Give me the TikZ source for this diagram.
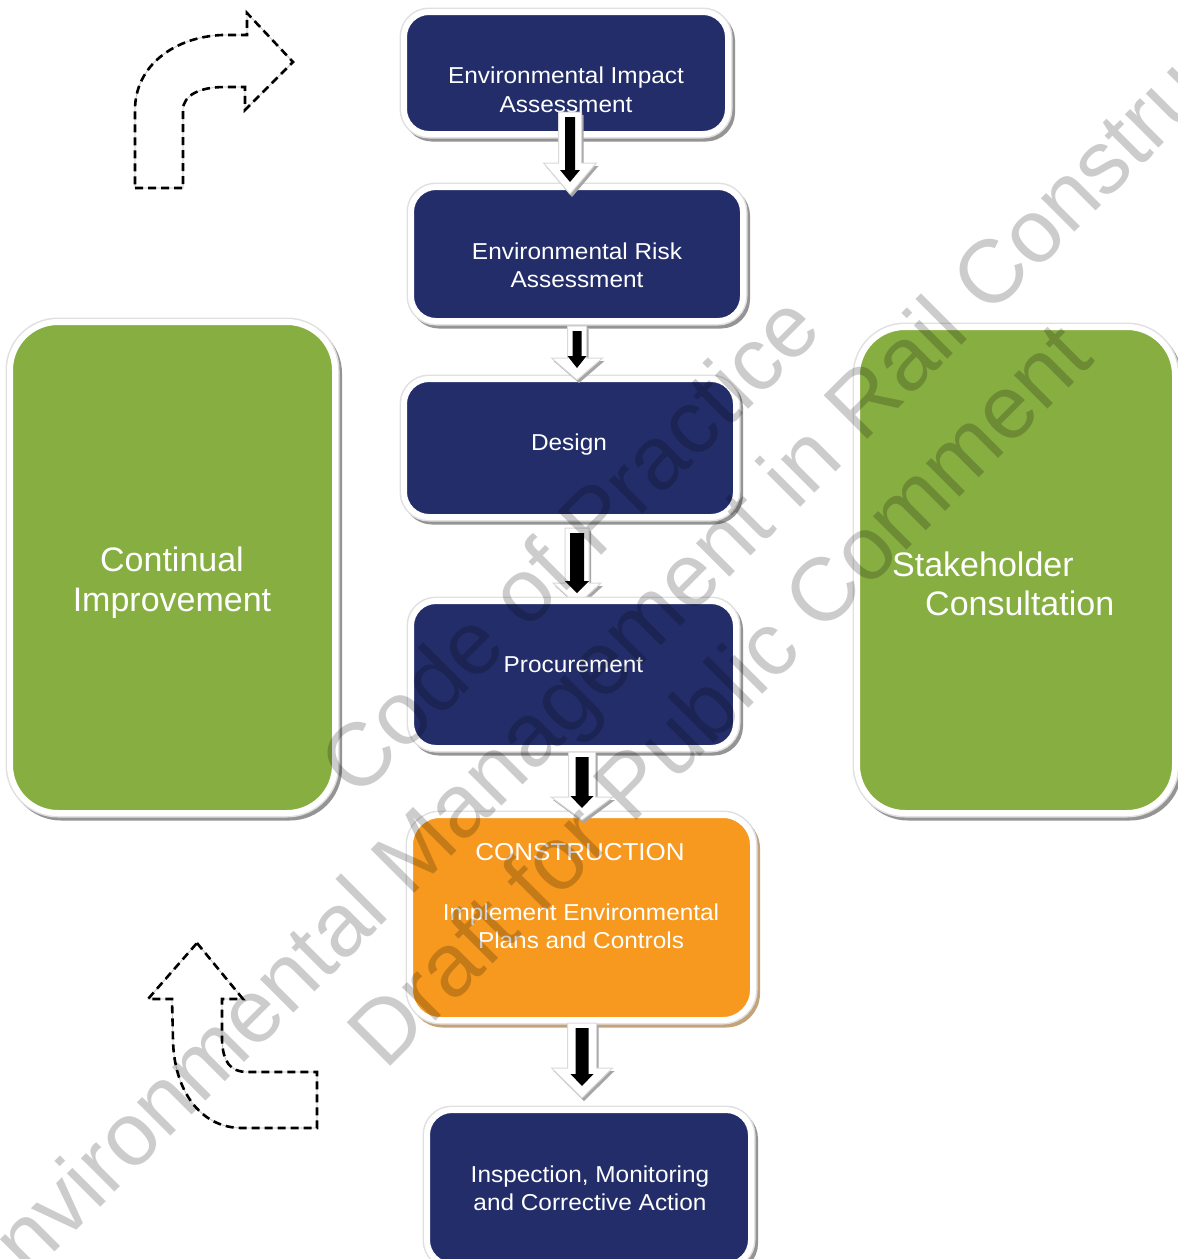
\documentclass[tikz,border=0pt]{standalone}
\usepackage{fontspec}
\setmainfont{Liberation Sans}
\newfontfamily\boxfont[FakeStretch=1.06]{Liberation Sans}
\usetikzlibrary{calc}
\definecolor{navy}{HTML}{232D69}
\definecolor{leaf}{HTML}{87AE41}
\definecolor{amber}{HTML}{F7991E}
\definecolor{tanshadow}{HTML}{C4A27A}
\tikzset{
  boxbase/.style={draw=white, line width=6pt, inner sep=0pt, outer sep=0pt, rounded corners=25pt},
  shadowgray/.style={preaction={fill=black!42, draw=black!42, line width=8pt, transform canvas={xshift=3pt,yshift=-3.5pt}},
    preaction={draw=black!12, line width=9pt}},
  shadowtan/.style={preaction={fill=tanshadow, draw=tanshadow, line width=8pt, transform canvas={xshift=3pt,yshift=-3.5pt}},
    preaction={draw=black!12, line width=9pt}},
  navybox/.style={boxbase, shadowgray, fill=navy},
  leafbox/.style={boxbase, shadowgray, fill=leaf, rounded corners=48pt},
  amberbox/.style={boxbase, shadowtan, fill=amber, rounded corners=30pt},
  boxtext/.style={text=white, font=\boxfont\fontsize{23}{28}\selectfont, anchor=base, inner sep=0pt},
  captext/.style={text=white, font=\boxfont\fontsize{24.5}{28}\selectfont, anchor=base, inner sep=0pt},
  bigtext/.style={text=white, font=\fontsize{34}{40}\selectfont, anchor=base, inner sep=0pt},
  bigtextw/.style={bigtext, anchor=base west},
  dashline/.style={draw=black, line width=2.6pt, dash pattern=on 8pt off 5pt, line join=miter},
  faintline/.style={draw=black!25, line width=0.7pt},
  whitearrow/.style={fill=white, draw=black!15, line width=1pt,
    preaction={fill=black!35, transform canvas={xshift=2pt,yshift=-3pt}}},
  blackarrow/.style={fill=black},
  watermark/.style={text=black, text opacity=0.2, rotate=45, align=center, inner sep=0pt,
    font=\fontsize{89.5}{106}\selectfont}
}
% #1 x, #2 top, #3 tip, #4 shaft half width, #5 head half width, #6 head length, #7 black half width
\newcommand\blkarrow[7]{%
  \path[whitearrow] ({#1-#4},#2) -- ({#1+#4},#2) -- ({#1+#4},{#3-#6}) -- ({#1+#5},{#3-#6})
     -- (#1,#3) -- ({#1-#5},{#3-#6}) -- ({#1-#4},{#3-#6}) -- cycle;
  \path[blackarrow] ({#1-#7},{#2+5}) -- ({#1+#7},{#2+5}) -- ({#1+#7},{#3-24}) -- ({#1+#7+5},{#3-24})
     -- (#1,{#3-12}) -- ({#1-#7-5},{#3-24}) -- ({#1-#7},{#3-24}) -- cycle;
}
\begin{document}
\begin{tikzpicture}[x=1pt,y=-1pt]
\useasboundingbox (0,0) rectangle (1178,1259);
\fill[white] (0,0) rectangle (1178,1259);

% side boxes
\node[leafbox, minimum width=325pt, minimum height=491pt] (ci) at (172.5,567.5) {};
\node[leafbox, minimum width=318pt, minimum height=486pt] (sc) at (1016,570) {};
\node[bigtext] (ci1) at (172,571) {Continual};
\node[bigtext] (ci2) at (172,611) {Improvement};
\node[bigtextw] (sc1) at (892,576) {Stakeholder};
\node[bigtextw] (sc2) at (925,615) {Consultation};

% process boxes (the Design-to-Procurement arrow runs under the Procurement box)
\node[navybox, minimum width=324pt, minimum height=122pt] (eia) at (566,73) {};
\node[navybox, minimum width=332pt, minimum height=134pt] (era) at (577,254) {};
\node[navybox, minimum width=332pt, minimum height=138pt] (des) at (570,448) {};
\blkarrow{577}{528}{605}{12}{24}{22}{7}
\node[navybox, minimum width=325pt, minimum height=147pt] (pro) at (573.5,674.5) {};
\node[amberbox, minimum width=343pt, minimum height=205pt] (con) at (581.5,917.5) {};
\node[navybox, minimum width=324pt, minimum height=155pt] (ins) at (589,1187.5) {};

\node[boxtext] (eia1) at (566,83) {Environmental Impact};
\node[boxtext] (eia2) at (566,112) {Assessment};
\node[boxtext] (era1) at (577,259) {Environmental Risk};
\node[boxtext] (era2) at (577,287) {Assessment};
\node[boxtext] (des1) at (569,450) {Design};
\node[boxtext] (pro1) at (573.5,672) {Procurement};
\node[captext] (con1) at (580,860) {CONSTRUCTION};
\node[boxtext] (con2) at (581,920) {Implement Environmental};
\node[boxtext] (con3) at (581,948) {Plans and Controls};
\node[boxtext] (ins1) at (590,1182) {Inspection, Monitoring};
\node[boxtext] (ins2) at (590,1210) {and Corrective Action};

% block arrows between the boxes
\blkarrow{570}{112}{194}{11.5}{26.5}{31}{5}
\blkarrow{577}{326}{380}{9.5}{25.5}{22}{4.5}
\blkarrow{582}{752}{820}{13.5}{31}{23}{6.5}
\blkarrow{582}{1023}{1098}{14.5}{30.5}{30}{6.5}

% dashed curved arrows
\def\toparrow{(135,188) -- (183,188) -- (183,110) .. controls (183,95) and (200,87) .. (225,87) -- (245,87) -- (245,110) -- (293,62) -- (247,13) -- (247,35) -- (222,35) .. controls (175,37) and (135,65) .. (135,110) -- cycle}
\def\botarrow{(197,943) -- (243,999) -- (222,999) -- (222,1040) .. controls (223,1062) and (230,1072) .. (248,1072) -- (317,1072) -- (317,1128) -- (242,1128) .. controls (200,1128) and (174,1090) .. (173,1040) -- (172,999) -- (148,999) -- cycle}
\path[faintline] \toparrow;
\path[dashline] \toparrow;
\path[faintline] \botarrow;
\path[dashline] \botarrow;

% watermark
\node[watermark] (wm) at (643.5,618.5) {Code of Practice\\Environmental Management in Rail Construction\\Draft for Public Comment};
\end{tikzpicture}
\end{document}
